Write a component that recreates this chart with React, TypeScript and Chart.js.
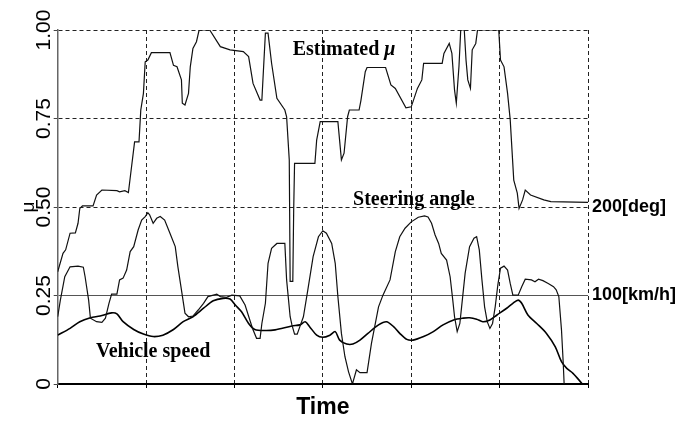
import React, { useEffect, useRef } from 'react';
import { Chart, registerables } from 'chart.js';

Chart.register(...registerables);

// ---- Data (time in grid units 0..6, values on the μ scale 0..1) ----
const muTime = [0, 0.06, 0.09, 0.14, 0.2, 0.23, 0.25, 0.28, 0.4, 0.44, 0.5, 0.67, 0.7, 0.76, 0.8, 0.82, 0.87, 0.92, 0.94, 0.97, 0.99, 1.02, 1.06, 1.27, 1.31, 1.35, 1.4, 1.41, 1.44, 1.48, 1.5, 1.53, 1.57, 1.6, 1.72, 1.84, 1.95, 2.1, 2.16, 2.21, 2.29, 2.31, 2.35, 2.38, 2.42, 2.48, 2.57, 2.59, 2.62, 2.63, 2.66, 2.67, 2.68, 2.91, 2.93, 2.97, 3.17, 3.21, 3.24, 3.28, 3.3, 3.41, 3.43, 3.48, 3.5, 3.71, 3.77, 3.82, 3.94, 4.0, 4.07, 4.12, 4.14, 4.35, 4.37, 4.43, 4.46, 4.49, 4.51, 4.54, 4.56, 4.6, 4.62, 4.64, 4.67, 4.69, 4.73, 4.75, 4.99, 5.01, 5.05, 5.09, 5.12, 5.16, 5.2, 5.22, 5.26, 5.29, 5.35, 5.5, 5.58, 6.0];
const muValue = [0.317, 0.369, 0.379, 0.426, 0.427, 0.454, 0.496, 0.503, 0.503, 0.534, 0.548, 0.546, 0.543, 0.546, 0.541, 0.582, 0.684, 0.684, 0.774, 0.821, 0.91, 0.915, 0.936, 0.936, 0.9, 0.896, 0.859, 0.793, 0.788, 0.821, 0.896, 0.948, 0.967, 1.0, 1.0, 0.953, 0.944, 0.939, 0.925, 0.849, 0.802, 0.802, 0.991, 0.991, 0.906, 0.807, 0.774, 0.755, 0.633, 0.29, 0.29, 0.49, 0.623, 0.623, 0.689, 0.741, 0.741, 0.633, 0.652, 0.755, 0.774, 0.774, 0.8, 0.882, 0.894, 0.894, 0.845, 0.835, 0.78, 0.783, 0.835, 0.859, 0.906, 0.906, 0.934, 0.962, 0.934, 0.83, 0.793, 0.897, 1.0, 1.0, 0.915, 0.859, 0.835, 0.944, 0.962, 1.0, 1.0, 0.915, 0.896, 0.821, 0.746, 0.576, 0.539, 0.496, 0.52, 0.548, 0.534, 0.52, 0.515, 0.513];

const steerTime = [0, 0.03, 0.08, 0.14, 0.23, 0.29, 0.31, 0.35, 0.37, 0.44, 0.5, 0.54, 0.58, 0.61, 0.67, 0.7, 0.74, 0.78, 0.82, 0.86, 0.91, 0.95, 0.99, 1.02, 1.04, 1.08, 1.12, 1.16, 1.21, 1.27, 1.33, 1.36, 1.4, 1.44, 1.48, 1.53, 1.59, 1.65, 1.7, 1.8, 1.84, 1.91, 1.97, 2.06, 2.12, 2.18, 2.21, 2.25, 2.29, 2.31, 2.35, 2.38, 2.42, 2.48, 2.57, 2.59, 2.63, 2.65, 2.68, 2.71, 2.74, 2.78, 2.83, 2.89, 2.95, 3.0, 3.04, 3.1, 3.14, 3.17, 3.21, 3.25, 3.29, 3.33, 3.34, 3.38, 3.42, 3.5, 3.55, 3.63, 3.68, 3.76, 3.82, 3.87, 3.93, 4.0, 4.08, 4.15, 4.19, 4.23, 4.27, 4.31, 4.34, 4.4, 4.44, 4.47, 4.49, 4.52, 4.55, 4.57, 4.61, 4.66, 4.71, 4.74, 4.77, 4.8, 4.83, 4.86, 4.89, 4.92, 4.95, 4.98, 5.01, 5.05, 5.09, 5.12, 5.15, 5.21, 5.25, 5.29, 5.36, 5.4, 5.44, 5.49, 5.55, 5.61, 5.64, 5.67, 5.7, 5.72, 5.73];
const steerValue = [0.19, 0.237, 0.303, 0.331, 0.333, 0.33, 0.303, 0.237, 0.186, 0.176, 0.174, 0.186, 0.228, 0.254, 0.254, 0.294, 0.299, 0.322, 0.374, 0.388, 0.435, 0.463, 0.473, 0.484, 0.478, 0.454, 0.468, 0.473, 0.463, 0.426, 0.388, 0.331, 0.266, 0.2, 0.19, 0.192, 0.209, 0.228, 0.247, 0.254, 0.247, 0.245, 0.251, 0.249, 0.223, 0.176, 0.153, 0.129, 0.129, 0.171, 0.228, 0.341, 0.383, 0.397, 0.397, 0.294, 0.19, 0.167, 0.141, 0.141, 0.162, 0.19, 0.266, 0.36, 0.416, 0.433, 0.426, 0.397, 0.341, 0.247, 0.143, 0.077, 0.035, 0.004, 0.005, 0.04, 0.032, 0.032, 0.115, 0.218, 0.251, 0.294, 0.374, 0.416, 0.44, 0.458, 0.471, 0.475, 0.472, 0.454, 0.421, 0.397, 0.369, 0.35, 0.303, 0.237, 0.19, 0.148, 0.171, 0.218, 0.313, 0.388, 0.412, 0.416, 0.379, 0.294, 0.218, 0.176, 0.157, 0.171, 0.218, 0.28, 0.327, 0.333, 0.322, 0.284, 0.251, 0.251, 0.275, 0.296, 0.294, 0.289, 0.296, 0.292, 0.284, 0.275, 0.266, 0.247, 0.153, 0.058, 0.0];

const speedTime = [0, 0.14, 0.25, 0.37, 0.48, 0.61, 0.67, 0.74, 0.86, 0.97, 1.08, 1.19, 1.31, 1.42, 1.53, 1.65, 1.76, 1.87, 1.95, 2.01, 2.08, 2.16, 2.23, 2.35, 2.46, 2.65, 2.74, 2.8, 2.85, 2.93, 3.0, 3.08, 3.14, 3.19, 3.27, 3.34, 3.42, 3.51, 3.63, 3.72, 3.8, 3.87, 3.95, 4.02, 4.14, 4.25, 4.36, 4.48, 4.59, 4.66, 4.74, 4.81, 4.89, 4.97, 5.08, 5.15, 5.21, 5.25, 5.32, 5.42, 5.53, 5.63, 5.7, 5.76, 5.83, 5.93];
const speedValue = [0.138, 0.157, 0.176, 0.187, 0.192, 0.201, 0.198, 0.176, 0.154, 0.141, 0.134, 0.138, 0.154, 0.176, 0.19, 0.214, 0.235, 0.242, 0.24, 0.223, 0.204, 0.171, 0.154, 0.151, 0.153, 0.164, 0.167, 0.176, 0.162, 0.138, 0.132, 0.138, 0.148, 0.124, 0.113, 0.113, 0.124, 0.143, 0.167, 0.176, 0.162, 0.143, 0.126, 0.124, 0.134, 0.148, 0.167, 0.181, 0.186, 0.187, 0.183, 0.176, 0.181, 0.195, 0.214, 0.228, 0.237, 0.228, 0.195, 0.171, 0.143, 0.105, 0.063, 0.044, 0.03, 0.002];

const seriesNames = ['Estimated μ', 'Steering angle', 'Vehicle speed'];
const rightTickValues = [0.25, 0.5];
const rightTickLabels = ['100[km/h]', '200[deg]'];

// In-plot series captions (text, italic suffix, anchor in data units)
const captionText = ['Estimated ', 'Steering angle', 'Vehicle speed'];
const captionItalic = ['μ', '', ''];
const captionTime = [3.24, 4.03, 1.08];
const captionMu = [0.944, 0.52, 0.092];

const SANS = '"Liberation Sans", Arial, sans-serif';
const SERIF = '"Liberation Serif", "Times New Roman", serif';

const captionPlugin = {
  id: 'seriesCaptions',
  afterDatasetsDraw(chart: any) {
    const { ctx } = chart;
    const xs = chart.scales.x;
    const ys = chart.scales.y;
    ctx.save();
    ctx.fillStyle = '#000';
    ctx.textBaseline = 'middle';
    ctx.textAlign = 'left';
    captionText.forEach((txt, i) => {
      const cx = xs.getPixelForValue(captionTime[i]);
      const cy = ys.getPixelForValue(captionMu[i]);
      const mainFont = 'bold 20px ' + SERIF;
      const itFont = 'italic bold 20px ' + SERIF;
      ctx.font = mainFont;
      const w1 = ctx.measureText(txt).width;
      ctx.font = itFont;
      const w2 = captionItalic[i] ? ctx.measureText(captionItalic[i]).width : 0;
      const start = cx - (w1 + w2) / 2;
      ctx.font = mainFont;
      ctx.fillText(txt, start, cy);
      if (captionItalic[i]) {
        ctx.font = itFont;
        ctx.fillText(captionItalic[i], start + w1, cy);
      }
    });
    ctx.restore();
  },
};

const toPoints = (t: number[], v: number[]) => t.map((x, i) => ({ x, y: v[i] }));

export default function App() {
  const ref = useRef<HTMLCanvasElement | null>(null);

  useEffect(() => {
    if (!ref.current) return;
    const dashFor = (ctx: any) =>
      ctx.tick && Math.abs(ctx.tick.value - 0.25) < 1e-9 ? [] : [4, 3];
    const chart = new Chart(ref.current, {
      type: 'line',
      data: {
        datasets: [
          {
            label: seriesNames[0],
            data: toPoints(muTime, muValue),
            borderColor: '#111',
            borderWidth: 1.2,
            pointRadius: 0,
            tension: 0,
            fill: false,
          },
          {
            label: seriesNames[1],
            data: toPoints(steerTime, steerValue),
            borderColor: '#111',
            borderWidth: 1.2,
            pointRadius: 0,
            tension: 0,
            fill: false,
          },
          {
            label: seriesNames[2],
            data: toPoints(speedTime, speedValue),
            borderColor: '#000',
            borderWidth: 1.6,
            pointRadius: 0,
            tension: 0.3,
            fill: false,
          },
        ],
      },
      options: {
        responsive: false,
        animation: false,
        devicePixelRatio: 1,
        layout: { padding: { top: 30, left: 0, right: 0, bottom: 0 } },
        plugins: {
          legend: { display: false },
          tooltip: { enabled: false },
        },
        scales: {
          x: {
            type: 'linear',
            min: 0,
            max: 6,
            ticks: { stepSize: 1, display: false },
            grid: {
              color: (ctx: any) => (ctx.tick && ctx.tick.value === 0 ? 'rgba(0,0,0,0)' : '#222'),
              lineWidth: 1,
              drawTicks: true,
              tickLength: 4,
              tickColor: '#000',
              tickWidth: 1,
            },
            border: { display: true, color: '#000', width: 2, dash: [4, 3] },
            title: {
              display: true,
              text: 'Time',
              color: '#000',
              font: { family: SANS, size: 23, weight: 'bold' },
              padding: { top: 0, bottom: 0 },
            },
            afterFit: (s: any) => {
              s.height = 37;
            },
          },
          y: {
            type: 'linear',
            position: 'left',
            min: 0,
            max: 1,
            ticks: {
              stepSize: 0.25,
              minRotation: 90,
              maxRotation: 90,
              crossAlign: 'center',
              padding: -11,
              color: '#000',
              font: { family: SANS, size: 21 },
              callback: (v: any) => (Number(v) === 0 ? '0' : Number(v).toFixed(2)),
            },
            grid: {
              color: (ctx: any) => {
                if (!ctx.tick) return '#222';
                if (ctx.tick.value === 0) return 'rgba(0,0,0,0)';
                if (Math.abs(ctx.tick.value - 0.25) < 1e-9) return '#555';
                return '#222';
              },
              lineWidth: 1,
              drawTicks: true,
              tickLength: 4,
              tickColor: '#444',
            },
            border: { display: true, color: '#666', width: 1.5, dash: dashFor },
            title: {
              display: true,
              text: 'μ',
              color: '#000',
              font: { family: SANS, size: 19 },
              padding: { top: 17, bottom: 0 },
            },
            afterFit: (s: any) => {
              s.width = 57.7;
            },
          },
          y2: {
            type: 'linear',
            position: 'right',
            min: 0,
            max: 1,
            afterBuildTicks: (s: any) => {
              s.ticks = rightTickValues.map((value) => ({ value }));
            },
            ticks: {
              padding: 4,
              color: '#000',
              font: { family: SANS, size: 18, weight: 'bold' },
              callback: (v: any) => rightTickLabels[rightTickValues.indexOf(Number(v))] ?? '',
            },
            grid: { display: false, drawTicks: false },
            border: { display: false },
            afterFit: (s: any) => {
              s.width = 100;
            },
          },
        },
      },
      plugins: [captionPlugin],
    } as any);
    return () => chart.destroy();
  }, []);

  return (
    <div style={{ position: 'absolute', left: 0, top: 0, width: 688, height: 421, background: '#fff' }}>
      <canvas ref={ref} width={688} height={421} style={{ display: 'block', width: 688, height: 421 }} />
    </div>
  );
}
